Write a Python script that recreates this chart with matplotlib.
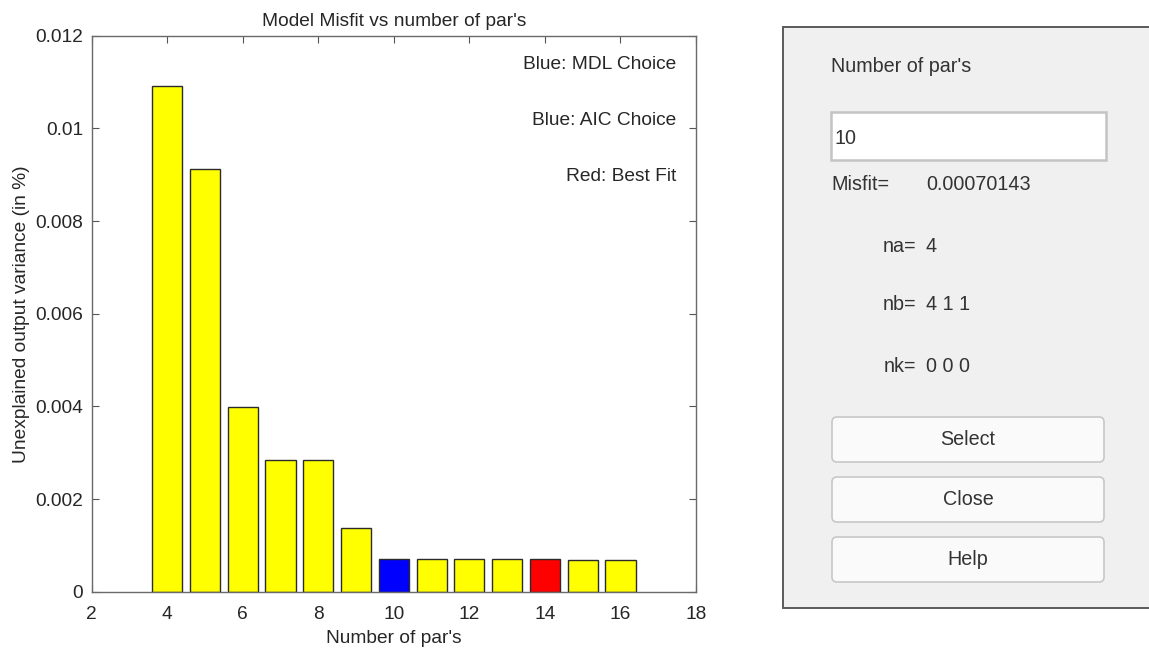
import matplotlib
matplotlib.use("Agg")
import matplotlib.pyplot as plt
from matplotlib.patches import Rectangle, FancyBboxPatch
from matplotlib.ticker import FuncFormatter

# misfit for each model order
n_pars = [4, 5, 6, 7, 8, 9, 10, 11, 12, 13, 14, 15, 16]
misfit = [0.01092, 0.00912, 0.00399, 0.00285, 0.00285, 0.00137, 0.00070143,
          0.00070, 0.00070, 0.00070, 0.00070, 0.00069, 0.00069]
mdl_choice = 10
aic_choice = 10
best_fit = 14

x_ticks = [2, 4, 6, 8, 10, 12, 14, 16, 18]
y_ticks = [0, 0.002, 0.004, 0.006, 0.008, 0.01, 0.012]

# selected model info shown in the side panel
sel_npar = "10"
sel_misfit = "0.00070143"
na_txt = "4"
nb_txt = "4 1 1"
nk_txt = "0 0 0"
buttons = ["Select", "Close", "Help"]

plt.rcParams["font.family"] = ["Liberation Sans", "DejaVu Sans"]
FS = 13.8
W, H = 1149, 653

fig = plt.figure(figsize=(W / 100, H / 100), dpi=100)

# ---- bar chart ----
ax = fig.add_axes([91.7 / W, 1 - 591.7 / H, (696 - 91.7) / W, (591.7 - 35.7) / H])
colors = []
for n in n_pars:
    if n == best_fit:
        colors.append("#ff0000")
    elif n in (mdl_choice, aic_choice):
        colors.append("#0000ff")
    else:
        colors.append("#ffff00")
ax.bar(n_pars, misfit, width=0.8, color=colors, edgecolor="#2b2b2b", linewidth=1.0, zorder=2)

ax.set_xlim(2, 18)
ax.set_ylim(0, 0.012)
ax.set_xticks(x_ticks)
ax.set_yticks(y_ticks)
ax.yaxis.set_major_formatter(FuncFormatter(lambda v, p: "{:g}".format(v)))
ax.tick_params(direction="in", top=True, right=True, length=5, width=0.8,
               color="#555555", labelcolor="#262626", labelsize=FS)
ax.tick_params(axis="x", pad=10)
ax.tick_params(axis="y", pad=6)
for s in ax.spines.values():
    s.set_color("#6a6a6a")
    s.set_linewidth(1.0)

ax.set_title("Model Misfit vs number of par's", fontsize=FS, color="#262626", pad=7)
ax.set_xlabel("Number of par's", fontsize=FS, color="#262626", labelpad=5)
ax.set_ylabel("Unexplained output variance (in %)", fontsize=FS, color="#262626", labelpad=4)

ax.text(17.47, 0.01137, "Blue: MDL Choice", ha="right", va="center", fontsize=FS, color="#262626")
ax.text(17.47, 0.01018, "Blue: AIC Choice", ha="right", va="center", fontsize=FS, color="#262626")
ax.text(17.47, 0.00897, "Red: Best Fit", ha="right", va="center", fontsize=FS, color="#262626")

# ---- side panel, drawn in pixel coordinates ----
ui = fig.add_axes([0, 0, 1, 1], zorder=-1)
ui.set_xlim(0, W)
ui.set_ylim(H, 0)
ui.axis("off")

ui.add_patch(Rectangle((783, 27), W - 783 + 5, 608 - 27, facecolor="#f0f0f0",
                       edgecolor="#5a5a5a", linewidth=1.4))

txt = dict(fontsize=FS + 0.4, color="#333333", va="center")
ui.text(831, 66, "Number of par's", **txt)

ui.add_patch(Rectangle((831, 112), 1106 - 831, 160 - 112, facecolor="white",
                       edgecolor="#c4c4c4", linewidth=1.8))
ui.text(835, 138, sel_npar, **txt)

ui.text(831, 184, "Misfit=", **txt)
ui.text(926, 184, sel_misfit, **txt)
ui.text(916, 246, "na=", ha="right", **txt)
ui.text(926, 246, na_txt, **txt)
ui.text(916, 305, "nb=", ha="right", **txt)
ui.text(926, 305, nb_txt, **txt)
ui.text(916, 366, "nk=", ha="right", **txt)
ui.text(926, 366, nk_txt, **txt)

btn_tops = [417, 477, 537]
btn_h = 45
for label, top in zip(buttons, btn_tops):
    ui.add_patch(FancyBboxPatch((832, top), 1104 - 832, btn_h,
                                boxstyle="round,pad=0,rounding_size=5",
                                facecolor="#fafafa", edgecolor="#c8c8c8", linewidth=1.2))
    ui.text((832 + 1104) / 2, top + btn_h / 2, label, ha="center", **txt)

fig.savefig("out.png", dpi=100)
